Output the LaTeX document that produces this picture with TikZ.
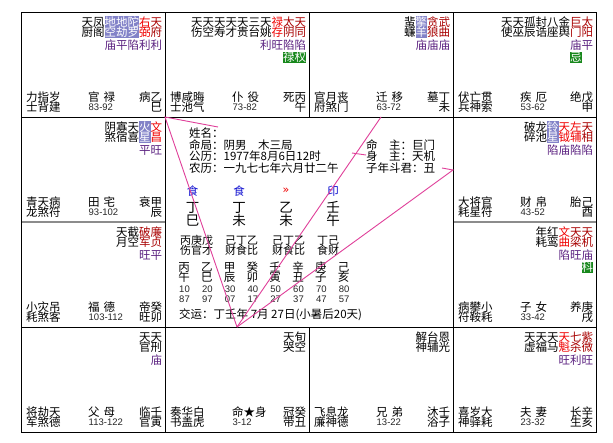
\documentclass[tikz,border=0pt]{standalone}
\usepackage{fontspec}
\setmainfont{Liberation Sans}
\newfontfamily\cjk{Noto Sans CJK SC}
\newfontfamily\dvs{DejaVu Sans}
\definecolor{mainred}{HTML}{A80000}
\definecolor{auxred}{HTML}{F00000}
\definecolor{brtc}{HTML}{5A2080}
\definecolor{malbg}{HTML}{8282C8}
\definecolor{badgebg}{HTML}{18881C}
\definecolor{pink}{HTML}{E0409A}
\definecolor{pillarblue}{HTML}{1010D0}
\newcounter{nd}
\newcommand\zch[4]{\stepcounter{nd}\node[#3] (n\arabic{nd}) at ({#1},{#2}) {#4};}
\newcommand\zcell[3]{\def\cL{#1}\def\cR{#2}\def\cT{#3}}
\newcommand\zx[1]{\cR-3-11.5*(#1+0.5)}
\newcommand\zstar[4]{\zch{\zx{#1}}{\cT+10}{#4}{#2}\zch{\zx{#1}}{\cT+20.5}{#4}{#3}}
\newcommand\zbg[2]{\fill[malbg] ({\cR-3-11.5*(#1)},{\cT+4}) rectangle ({\cR-3-11.5*(#1+#2)},{\cT+26});}
\newcommand\zbr[2]{\zch{\zx{#1}}{\cT+33.5}{brt}{#2}}
\newcommand\zbd[2]{\fill[badgebg] ({\cR-3-11.5*(#1)},{\cT+39.7}) rectangle ({\cR-3-11.5*(#1+1)},{\cT+51.3});\zch{\zx{#1}}{\cT+45.5}{cw}{#2}}
\newcommand\zbot[4]{%
  \zch{\cL+5}{\cT+85}{cj,anchor=west}{#1}%
  \zch{\cL+5}{\cT+95.5}{cj,anchor=west}{#2}%
  \zch{\cL+67}{\cT+85}{cj,anchor=west}{#3}%
  \zch{\cL+67.5}{\cT+95.5}{num,anchor=west}{#4}}
\newcommand\zgz[4]{\zch{\zx{1}}{\cT+85}{cj}{#1}\zch{\zx{1}}{\cT+95.5}{cj}{#2}\zch{\zx{0}}{\cT+85}{cj}{#3}\zch{\zx{0}}{\cT+95.5}{cj}{#4}}
\tikzset{
  cj/.style={font=\cjk\fontsize{11.5}{12}\selectfont, inner sep=0pt, text height=10.1pt, text depth=1.4pt},
  cw/.style={cj, text=white},
  ms/.style={cj, text=mainred},
  as/.style={cj, text=auxred},
  ml/.style={cj, text=white},
  brt/.style={cj, text=brtc},
  num/.style={font=\fontsize{9.5}{10}\selectfont, inner sep=0pt, text=black!85},
  info/.style={cj, anchor=west},
  big/.style={font=\cjk\fontsize{13.5}{14}\selectfont, inner sep=0pt, text height=11.9pt, text depth=1.6pt},
  hid/.style={font=\cjk\fontsize{11}{11}\selectfont, inner sep=0pt, text height=9.7pt, text depth=1.3pt, anchor=west},
  grid/.style={line width=1pt, black},
  sep/.style={line width=2pt, black!45},
  sanfang/.style={pink, line width=0.9pt},
}
\begin{document}
\begin{tikzpicture}[x=1pt,y=-1pt]
\useasboundingbox (0,0) rectangle (613,442);
\fill[white] (0,0) rectangle (613,442);
% grid
\draw[sep] (21,222) -- (165,222);
\draw[sep] (453,222) -- (596,222);
\draw[grid] (21,12) rectangle (596,432);
\draw[grid] (165,12) -- (165,432);
\draw[grid] (453,12) -- (453,432);
\draw[grid] (309,12) -- (309,117);
\draw[grid] (309,327) -- (309,432);
\draw[grid] (21,117) -- (596,117);
\draw[grid] (21,327) -- (596,327);

% ---- cell 巳
\zcell{21}{165}{12}
\zbg{2}{3}
\zstar{0}{天}{府}{ms}\zstar{1}{右}{弼}{as}\zstar{2}{陀}{罗}{ml}\zstar{3}{地}{劫}{ml}\zstar{4}{地}{空}{ml}\zstar{5}{凤}{阁}{cj}\zstar{6}{天}{厨}{cj}
\zbr{0}{利}\zbr{1}{利}\zbr{2}{陷}\zbr{3}{平}\zbr{4}{庙}
\zbot{力指岁}{士背建}{官\hspace{4pt}禄}{83-92}\zgz{病}{}{乙}{巳}

% ---- cell 午
\zcell{165}{309}{12}
\zstar{0}{天}{同}{ms}\zstar{1}{太}{阴}{ms}\zstar{2}{禄}{存}{as}\zstar{3}{天}{姚}{cj}\zstar{4}{三}{台}{cj}\zstar{5}{天}{贵}{cj}\zstar{6}{天}{才}{cj}\zstar{7}{天}{寿}{cj}\zstar{8}{天}{空}{cj}\zstar{9}{天}{伤}{cj}
\zbr{0}{陷}\zbr{1}{陷}\zbr{2}{旺}\zbr{3}{利}
\zbd{1}{禄}\zbd{0}{权}
\zbot{博咸晦}{士池气}{仆\hspace{4pt}役}{73-82}\zgz{死}{}{丙}{午}

% ---- cell 未
\zcell{309}{453}{12}
\zbg{2}{1}
\zstar{0}{武}{曲}{ms}\zstar{1}{贪}{狼}{ms}\zstar{2}{擎}{羊}{ml}\zstar{3}{蜚}{蠊}{cj}
\zbr{0}{庙}\zbr{1}{庙}\zbr{2}{庙}
\zbot{官月丧}{府煞门}{迁\hspace{4pt}移}{63-72}\zgz{墓}{}{丁}{未}

% ---- cell 申
\zcell{453}{596}{12}
\zstar{0}{太}{阳}{ms}\zstar{1}{巨}{门}{ms}\zstar{2}{金}{舆}{cj}\zstar{3}{八}{座}{cj}\zstar{4}{封}{诰}{cj}\zstar{5}{孤}{辰}{cj}\zstar{6}{天}{巫}{cj}\zstar{7}{天}{使}{cj}
\zbr{0}{平}\zbr{1}{庙}
\zbd{1}{忌}
\zbot{伏亡贯}{兵神索}{疾\hspace{4pt}厄}{53-62}\zgz{绝}{}{戊}{申}

% ---- cell 辰
\zcell{21}{165}{117}
\zbg{1}{1}
\zstar{0}{文}{昌}{as}\zstar{1}{火}{星}{ml}\zstar{2}{天}{喜}{cj}\zstar{3}{寡}{宿}{cj}\zstar{4}{阴}{煞}{cj}
\zbr{0}{旺}\zbr{1}{平}
\zbot{青天病}{龙煞符}{田\hspace{4pt}宅}{93-102}\zgz{衰}{}{甲}{辰}

% ---- cell 酉
\zcell{453}{596}{117}
\zbg{3}{1}
\zstar{0}{天}{相}{ms}\zstar{1}{左}{辅}{as}\zstar{2}{天}{钺}{as}\zstar{3}{铃}{星}{ml}\zstar{4}{龙}{池}{cj}\zstar{5}{破}{碎}{cj}
\zbr{0}{陷}\zbr{1}{陷}\zbr{2}{庙}\zbr{3}{陷}
\zbot{大将官}{耗星符}{财\hspace{4pt}帛}{43-52}\zgz{胎}{}{己}{酉}

% ---- cell 卯
\zcell{21}{165}{222}
\zstar{0}{廉}{贞}{ms}\zstar{1}{破}{军}{ms}\zstar{2}{截}{空}{cj}\zstar{3}{天}{月}{cj}
\zbr{0}{平}\zbr{1}{旺}
\zbot{小灾吊}{耗煞客}{福\hspace{4pt}德}{103-112}\zgz{帝}{旺}{癸}{卯}

% ---- cell 戌
\zcell{453}{596}{222}
\zstar{0}{天}{机}{ms}\zstar{1}{天}{梁}{ms}\zstar{2}{文}{曲}{as}\zstar{3}{红}{鸾}{cj}\zstar{4}{年}{耗}{cj}
\zbr{0}{庙}\zbr{1}{旺}\zbr{2}{陷}
\zbd{0}{科}
\zbot{病攀小}{符鞍耗}{子\hspace{4pt}女}{33-42}\zgz{养}{}{庚}{戌}

% ---- cell 寅
\zcell{21}{165}{327}
\zstar{0}{天}{刑}{cj}\zstar{1}{天}{官}{cj}
\zbr{0}{庙}
\zbot{将劫天}{军煞德}{父\hspace{4pt}母}{113-122}\zgz{临}{官}{壬}{寅}

% ---- cell 丑
\zcell{165}{309}{327}
\zstar{0}{旬}{空}{cj}\zstar{1}{天}{哭}{cj}
\zbot{奏华白}{书盖虎}{命★身}{3-12}\zgz{冠}{带}{癸}{丑}

% ---- cell 子
\zcell{309}{453}{327}
\zstar{0}{恩}{光}{cj}\zstar{1}{台}{辅}{cj}\zstar{2}{解}{神}{cj}
\zbot{飞息龙}{廉神德}{兄\hspace{4pt}弟}{13-22}\zgz{沐}{浴}{壬}{子}

% ---- cell 亥
\zcell{453}{596}{327}
\zstar{0}{紫}{微}{ms}\zstar{1}{七}{杀}{ms}\zstar{2}{天}{魁}{as}\zstar{3}{天}{马}{cj}\zstar{4}{天}{福}{cj}\zstar{5}{天}{虚}{cj}
\zbr{0}{旺}\zbr{1}{利}\zbr{2}{旺}
\zbot{喜岁大}{神驿耗}{夫\hspace{4pt}妻}{23-32}\zgz{长}{生}{辛}{亥}

% ---- centre
\node[info] (name) at (189,133) {姓名：};
\node[info] (ju) at (189,145) {命局：阴男　木三局};
\node[info] (gl) at (189,156.5) {公历：1977年8月6日12时};
\node[info] (nl) at (189,168) {农历：一九七七年六月廿二午};
\node[info] (mz) at (366,145) {命　主：巨门};
\node[info] (sz) at (366,156.5) {身　主：天机};
\node[info] (dj) at (366,168) {子年斗君：丑};

\node[cj, text=pillarblue] (h1) at (192.5,191) {食};
\node[cj, text=pillarblue] (h2) at (239,191) {食};
\node[font=\dvs\fontsize{11}{11}\selectfont, inner sep=0pt, text=auxred] (h3) at (286,191) {»};
\node[cj, text=pillarblue] (h4) at (333,191) {印};
\node[big] (s1) at (192.5,207) {丁};
\node[big] (s2) at (239,207) {丁};
\node[big] (s3) at (286,207) {乙};
\node[big] (s4) at (333,207) {壬};
\node[big] (b1) at (192.5,220.5) {巳};
\node[big] (b2) at (239,220.5) {未};
\node[big] (b3) at (286,220.5) {未};
\node[big] (b4) at (333,220.5) {午};
\node[hid] (g1a) at (180,240) {丙庚戊};
\node[hid] (g1b) at (180,250.5) {伤官才};
\node[hid] (g2a) at (225,240) {己丁乙};
\node[hid] (g2b) at (225,250.5) {财食比};
\node[hid] (g3a) at (272,240) {己丁乙};
\node[hid] (g3b) at (272,250.5) {财食比};
\node[hid] (g4a) at (317,240) {丁己};
\node[hid] (g4b) at (317,250.5) {食财};
\foreach \s/\b/\a/\e [count=\i from 0] in {丙/午/10/87,乙/巳/20/97,甲/辰/30/07,癸/卯/40/17,壬/寅/50/27,辛/丑/60/37,庚/子/70/47,己/亥/80/57}{
  \node[cj] (dy\i s) at ({184+22.8*\i},267) {\s};
  \node[cj] (dy\i b) at ({184+22.8*\i},277.5) {\b};
  \node[num] (dy\i a) at ({184.5+22.8*\i},289) {\a};
  \node[num] (dy\i e) at ({184.5+22.8*\i},299.5) {\e};
}
\node[info] (jy) at (179,314) {交运：丁壬年 7月 27日(小暑后20天)};

% ---- sanfang lines
\coordinate (ming) at (237,327);
\coordinate (guanlu) at (165,117);
\coordinate (qianyi) at (381,117);
\coordinate (caibo) at (453,170);
\coordinate (w1) at (218,127);
\coordinate (w2) at (442,168);
\coordinate (w3a) at (352,153);
\coordinate (w3b) at (366,155);
\draw[sanfang] (ming) -- (guanlu) -- (w1);
\draw[sanfang] (ming) -- (qianyi);
\draw[sanfang] (ming) -- (caibo) -- (w2);
\draw[sanfang] (w3a) -- (w3b);
\end{tikzpicture}
\end{document}
